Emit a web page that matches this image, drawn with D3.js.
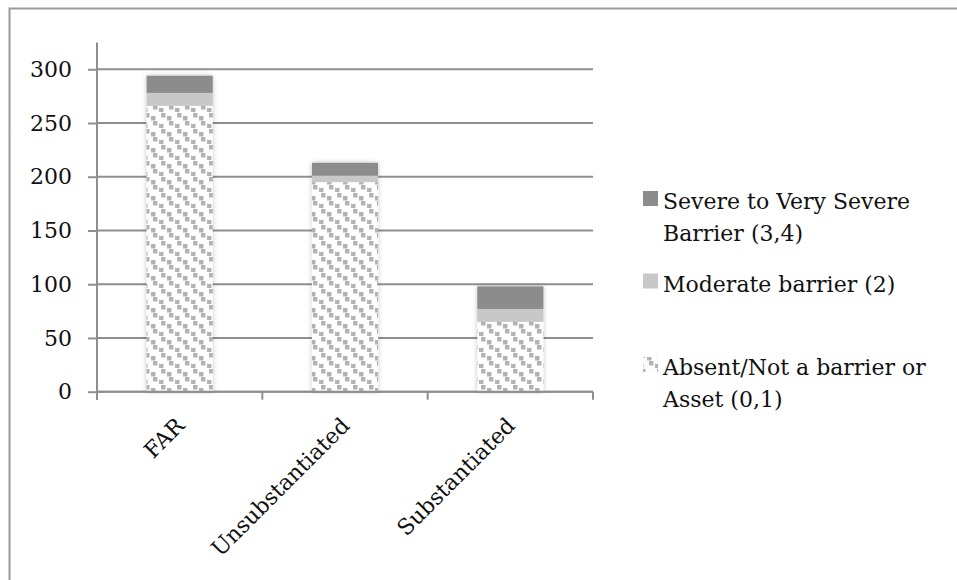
<!DOCTYPE html>
<html>
<head>
<meta charset="utf-8">
<script src="https://cdn.jsdelivr.net/npm/d3@7"></script>
<style>
  html, body { margin: 0; padding: 0; background: #fff; }
  svg { display: block; }
  text { font-family: "DejaVu Serif", "Liberation Serif", serif; fill: #111; }
</style>
</head>
<body>
<svg id="chart" width="957" height="580"></svg>
<script>
// ---- data ----
const categories = ["FAR", "Unsubstantiated", "Substantiated"];
const absentValues = [266, 195, 65];
const moderateValues = [12, 6, 12];
const severeValues = [16, 12, 21];
const seriesNames = ["Absent/Not a barrier or Asset (0,1)", "Moderate barrier (2)", "Severe to Very Severe Barrier (3,4)"];
const yTicks = [0, 50, 100, 150, 200, 250, 300];

// ---- build table ----
const table = categories.map((c, i) => ({
  cat: c, absent: absentValues[i], moderate: moderateValues[i], severe: severeValues[i]
}));
const keys = ["absent", "moderate", "severe"];
const stack = d3.stack().keys(keys)(table);

const svg = d3.select("#chart");
const W = 957, H = 580;

// defs: pattern & shadow
const defs = svg.append("defs");
const pat = defs.append("pattern").attr("id", "dots").attr("patternUnits", "userSpaceOnUse")
  .attr("width", 16).attr("height", 16);
pat.append("rect").attr("width", 16).attr("height", 16).attr("fill", "#fdfdfd");
[[1,1],[7,4],[9,9],[15,12],[-1,12]].forEach(([x,y]) => {
  pat.append("rect").attr("x", x).attr("y", y).attr("width", 4.5).attr("height", 4.5).attr("fill", "#b3b3b3");
});

const filt = defs.append("filter").attr("id", "shadow").attr("x", "-20%").attr("y", "-10%").attr("width", "140%").attr("height", "120%");
filt.append("feGaussianBlur").attr("in", "SourceAlpha").attr("stdDeviation", 2.5).attr("result", "b");
filt.append("feComponentTransfer").attr("in", "b").attr("result", "b2")
  .append("feFuncA").attr("type", "linear").attr("slope", 0.25);
const m = filt.append("feMerge");
m.append("feMergeNode").attr("in", "b2");
m.append("feMergeNode").attr("in", "SourceGraphic");

// outer frame
svg.append("rect").attr("x", 9.5).attr("y", 8.5).attr("width", W + 10).attr("height", H + 10)
  .attr("fill", "#fff").attr("stroke", "#9a9a9a").attr("stroke-width", 2);

// scales
const x = d3.scaleBand().domain(categories).range([97, 593]).paddingInner(0).paddingOuter(0);
const y = d3.scaleLinear().domain([0, 325]).range([391.7, 42.4]);
const barW = x.bandwidth() * 0.4;

const axisColor = "#8f8f8f";

// gridlines
svg.append("g").selectAll("line").data(yTicks).join("line")
  .attr("x1", 97).attr("x2", 593)
  .attr("y1", d => y(d)).attr("y2", d => y(d))
  .attr("stroke", axisColor).attr("stroke-width", 2);

// y axis
const yAxis = d3.axisLeft(y).tickValues(yTicks).tickSize(9).tickPadding(16).tickFormat(d3.format("d"));
const gy = svg.append("g").attr("transform", "translate(97,0)").call(yAxis);
gy.select(".domain").remove();
gy.selectAll(".tick line").attr("stroke", axisColor).attr("stroke-width", 2);
gy.selectAll(".tick text").attr("font-size", 22).attr("font-family", "DejaVu Serif").attr("fill", "#111");
svg.append("line").attr("x1", 97).attr("x2", 97).attr("y1", y(325)).attr("y2", 400)
  .attr("stroke", axisColor).attr("stroke-width", 2);

// bars
const colors = { absent: "url(#dots)", moderate: "#c8c8c8", severe: "#8c8c8c" };
const gBars = svg.append("g").attr("filter", "url(#shadow)");
stack.forEach(layer => {
  gBars.selectAll(null).data(layer).join("rect")
    .attr("x", d => x(d.data.cat) + (x.bandwidth() - barW) / 2)
    .attr("width", barW)
    .attr("y", d => y(d[1]))
    .attr("height", d => y(d[0]) - y(d[1]))
    .attr("fill", colors[layer.key]);
});

// x axis
const xAxisLine = svg.append("g");
xAxisLine.append("line").attr("x1", 97).attr("x2", 593).attr("y1", y(0)).attr("y2", y(0))
  .attr("stroke", axisColor).attr("stroke-width", 2);
const bounds = [97].concat(categories.map(c => x(c) + x.bandwidth()));
xAxisLine.selectAll(".xt").data(bounds).join("line")
  .attr("x1", d => d).attr("x2", d => d).attr("y1", y(0)).attr("y2", y(0) + 8)
  .attr("stroke", axisColor).attr("stroke-width", 2);

svg.append("g").selectAll("text").data(categories).join("text")
  .attr("transform", d => `translate(${x(d) + x.bandwidth() / 2 + 6},427) rotate(-45)`)
  .attr("text-anchor", "end")
  .attr("font-size", 22)
  .text(d => d);

// legend
const legend = [
  { key: "severe", lines: ["Severe to Very Severe", "Barrier (3,4)"], y: 209 },
  { key: "moderate", lines: ["Moderate barrier (2)"], y: 291.5 },
  { key: "absent", lines: ["Absent/Not a barrier or", "Asset (0,1)"], y: 375 }
];
const gl = svg.append("g");
legend.forEach(l => {
  gl.append("rect").attr("x", 643).attr("y", l.y - 18).attr("width", 15).attr("height", 15)
    .attr("fill", colors[l.key]);
  const t = gl.append("text").attr("x", 663).attr("y", l.y).attr("font-size", 22);
  l.lines.forEach((s, i) => t.append("tspan").attr("x", 663).attr("dy", i === 0 ? 0 : 31.7).text(s));
});
</script>
</body>
</html>
